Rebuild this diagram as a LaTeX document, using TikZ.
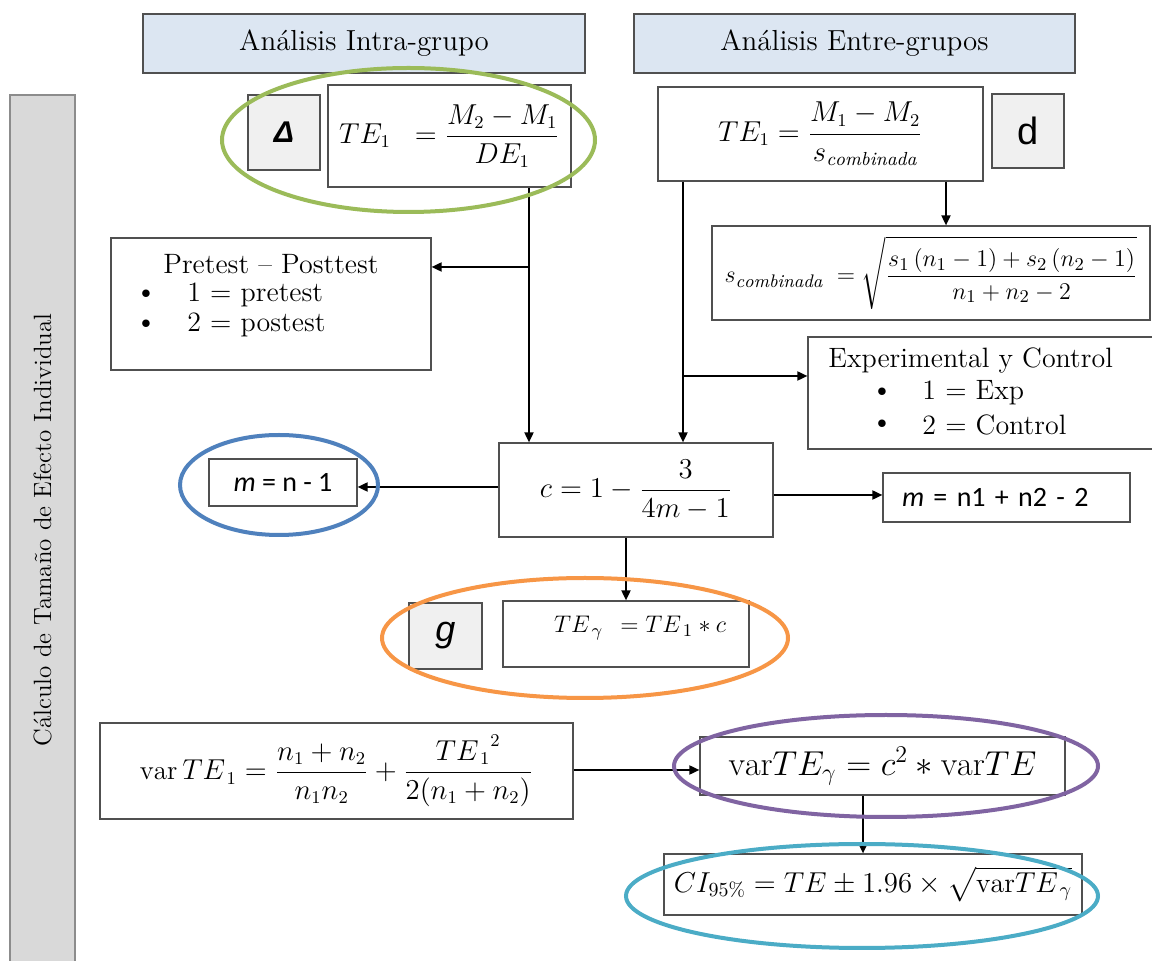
\documentclass[tikz,border=0pt]{standalone}
\usepackage{amsmath}
\usepackage{fontspec}
\usetikzlibrary{arrows.meta,calc}
\newfontfamily\calib{Carlito}
\newfontfamily\arialf{Liberation Sans}
\definecolor{boxline}{HTML}{505050}
\definecolor{headfill}{HTML}{DCE6F2}
\definecolor{sidefill}{HTML}{D9D9D9}
\definecolor{sideline}{HTML}{8C8C8C}
\definecolor{tagfill}{HTML}{F0F0F0}
\definecolor{cgreen}{HTML}{9BBB59}
\definecolor{cblue}{HTML}{4F81BD}
\definecolor{corange}{HTML}{F79646}
\definecolor{cpurple}{HTML}{8064A2}
\definecolor{ccyan}{HTML}{4BACC6}
\begin{document}
\begin{tikzpicture}[x=0.5pt,y=-0.5pt,
  box/.style={draw=boxline, fill=white, line width=0.6pt, inner sep=0pt},
  headbox/.style={box, fill=headfill, font=\fontsize{14.5}{17}\selectfont},
  tagbox/.style={box, fill=tagfill},
  lbl/.style={inner sep=0pt, font=\fontsize{14}{16}\selectfont},
  arr/.style={-{Triangle[length=5pt,width=4.5pt]}, line width=0.9pt},
  ring/.style={line width=2pt}]
\clip (0,0) rectangle (1152,961);
\fill[white] (0,0) rectangle (1152,961);

% headers
\node[headbox, minimum width=221pt, minimum height=29.5pt] (h1) at (364,43.5) {Análisis Intra-grupo};
\node[headbox, minimum width=220.5pt, minimum height=29.5pt] (h2) at (854.5,43.5) {Análisis Entre-grupos};

% side bar
\node[draw=sideline, fill=sidefill, line width=1pt, rotate=90, minimum width=435pt, minimum height=32.5pt, inner sep=0pt, font=\fontsize{12.5}{15}\selectfont] (side) at (42.5,530) {Cálculo de Tamaño de Efecto Individual};

% top formulas
\node[tagbox, minimum width=36pt, minimum height=37.5pt, font=\arialf\bfseries\itshape\fontsize{15}{18}\selectfont] (dl) at (284,132.5) {Δ};
\node[box, minimum width=121.5pt, minimum height=51pt, font=\fontsize{13.5}{16}\selectfont] (te1) at (449.5,136) {$\displaystyle TE_1 \;\; = \frac{M_2 - M_1}{DE_1}$};
\node[box, minimum width=162.5pt, minimum height=47pt, font=\fontsize{13.5}{16}\selectfont] (teR) at (820.5,134) {$\displaystyle TE_1 = \frac{M_1 - M_2}{s_{\mathit{combinada}}}$};
\node[tagbox, minimum width=36pt, minimum height=37pt, font=\arialf\fontsize{19}{22}\selectfont] (dd) at (1028,131) {d};
\node[box, minimum width=219pt, minimum height=47pt, font=\fontsize{13}{15}\selectfont] (scomb) at (931,273) {$\displaystyle s_{\mathit{combinada}} \; = \sqrt{\frac{s_1\,(n_1 - 1) + s_2\,(n_2 - 1)}{n_1 + n_2 - 2}}$};

% pretest box
\node[box, minimum width=160pt, minimum height=66pt] (pre) at (271,304) {};
\node[lbl] (preT) at (271,264) {Pretest – Posttest};
\node[lbl] (preB1) at (146,295) {\textbullet};
\node[lbl, anchor=west] (preI1) at (187,295) {1 = pretest};
\node[lbl] (preB2) at (146,325) {\textbullet};
\node[lbl, anchor=west] (preI2) at (187,325) {2 = postest};

% experimental box
\node[box, minimum width=176pt, minimum height=56pt] (exp) at (984,393) {};
\node[lbl, anchor=west] (expT) at (828,361) {Experimental y Control};
\node[lbl] (expB1) at (882,393) {\textbullet};
\node[lbl, anchor=west] (expI1) at (922,393) {1 = Exp};
\node[lbl] (expB2) at (882,425) {\textbullet};
\node[lbl, anchor=west] (expI2) at (922,425) {2 = Control};

% c box and m boxes
\node[box, minimum width=137pt, minimum height=47pt, font=\fontsize{13.5}{16}\selectfont] (c) at (636,490) {$\displaystyle c = 1 - \frac{3}{4m - 1}$};
\node[box, minimum width=74pt, minimum height=23.5pt, font=\calib\fontsize{14}{17}\selectfont] (m1) at (283,482.5) {\textit{m} = n - 1};
\node[box, text width=104.5pt, inner xsep=9.5pt, align=left, minimum height=24.5pt, font=\calib\fontsize{14}{17}\selectfont] (m2) at (1006.5,497.5) {\textit{m} = n1 + n2 - 2};

% g row
\node[tagbox, minimum width=36.5pt, minimum height=33pt, font=\arialf\itshape\fontsize{18}{21}\selectfont] (gg) at (445.5,636) {g};
\node[box, minimum width=123pt, minimum height=33pt] (teg) at (626,634) {};
\node[inner sep=0pt, font=\fontsize{12.5}{15}\selectfont] (tegT) at (640,628) {$TE_{\,\gamma} \;\, = TE_{\,1} * c$};

% variance
\node[box, minimum width=236.5pt, minimum height=48pt, font=\fontsize{13.5}{16}\selectfont] (var1) at (336.5,771) {$\displaystyle \mathrm{var}\,TE_{\,1} = \frac{n_1 + n_2}{n_1 n_2} + \frac{{TE_{\,1}}^{2}}{2(n_1 + n_2)}$};
\node[box, minimum width=182.5pt, minimum height=29pt, font=\fontsize{17}{20}\selectfont] (varg) at (882.5,766) {$\mathrm{var}TE_{\gamma} = c^2 * \mathrm{var}TE$};
\node[box, minimum width=209pt, minimum height=30.5pt, font=\fontsize{14}{17}\selectfont] (ci) at (873,884.5) {$CI_{95\%} = TE \pm 1.96 \times \sqrt{\mathrm{var}TE_{\,\gamma}}$};

% junctions
\coordinate (j1) at (529,267);
\coordinate (j2) at (683,376);
\coordinate (j3) at (946,200);
\coordinate (j4) at (863,820);

% connectors
\draw[arr] (te1.south -| j1) -- (c.north -| j1);
\draw[arr] (j1) -- (pre.east |- j1);
\draw[arr] (teR.south -| j2) -- (c.north -| j2);
\draw[arr] (j2) -- (exp.west |- j2);
\draw[arr] (teR.south -| j3) -- (scomb.north -| j3);
\draw[arr] (c.west |- 0,487) -- (m1.east |- 0,487);
\draw[arr] (c.east |- 0,495) -- (m2.west |- 0,495);
\draw[arr] (c.south -| teg.north) -- (teg.north);
\draw[arr] (var1.east |- 0,770) -- (varg.west |- 0,770);
\draw[arr] (varg.south -| j4) -- (ci.north -| j4);

% highlight ellipses
\draw[ring, cgreen] (408.5,140) ellipse [x radius=186.5, y radius=72];
\draw[ring, cblue] (279,485) ellipse [x radius=99, y radius=50];
\draw[ring, corange] (585,638) ellipse [x radius=203, y radius=60];
\draw[ring, cpurple] (886,766) ellipse [x radius=212, y radius=51];
\draw[ring, ccyan] (862,896) ellipse [x radius=236, y radius=52];
\end{tikzpicture}
\end{document}
